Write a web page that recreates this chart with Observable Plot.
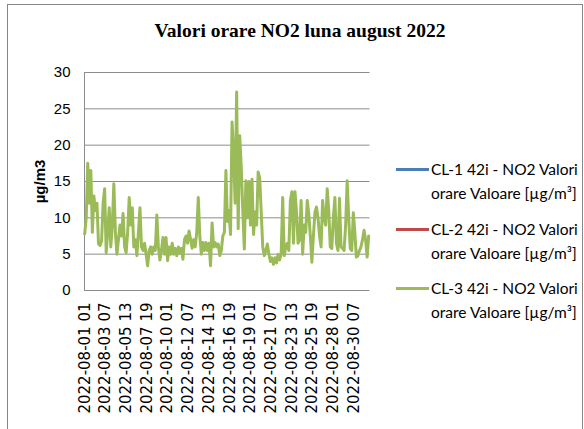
<!DOCTYPE html>
<html><head><meta charset="utf-8">
<script src="https://cdn.jsdelivr.net/npm/d3@7"></script>
<script src="https://cdn.jsdelivr.net/npm/@observablehq/plot@0.6"></script>
<style>
body{margin:0;background:#fff;}
#wrap{position:relative;width:584px;height:429px;overflow:hidden;background:#fff;}
#frame{position:absolute;left:7px;top:4px;width:576px;height:440px;border:1px solid #868686;box-sizing:border-box;}
#title{position:absolute;left:0;width:600px;top:20px;text-align:center;font:bold 19.5px "Liberation Serif";color:#000;}
#chart{position:absolute;left:0;top:0;}
.lg{position:absolute;left:396px;font:15.5px Lato;color:#000;line-height:24px;}
.lg .sw{position:absolute;left:0;top:11px;width:33px;height:3px;}
.lg .tx{position:absolute;left:35px;top:0;white-space:nowrap;}
</style></head>
<body>
<div id="wrap">
<div id="frame"></div>
<div id="title">Valori orare NO2 luna august 2022</div>
<div id="chart"></div>
</div>
<script>
// ---- data ----
const startTime = "2022-08-01T01:00:00Z"; // first hourly reading
const stepHours = 4;                        // sampled every 4 hours
const cl3Values = [
 7.8,10,17.5,12,16.5,8,13,11,12,6.4,6.2,6.8,
 12,14,5.2,8,11.4,6,9,14.7,8,5,7,9,
 7.5,10.6,6,5.2,8,12.8,9,11.4,6,7,4.8,8,
 11.4,6,5.5,6.5,5,3.4,5.5,6,5,6,5.5,10.4,
 6,4.2,5.5,7.3,5,7.3,4.1,6,5,6.5,5,5.8,
 4.8,6,5.2,5.8,4.3,7,7.5,6.5,8.2,7,5.8,7,
 6,8,12.8,7.5,5,6.6,5.5,6.6,5.5,6.5,3.4,9.3,
 6,6.6,6,6.4,4.8,5.5,7.5,8,16.5,9.5,11,7.7,
 23.2,19,12,27.3,8.5,21.3,17,11,5.7,15.1,10,15,
 9,15.3,7.7,10.8,9,16.3,15.5,10.8,6,4.8,5.5,6.4,
 5,4,4.5,3.6,4.5,3.8,5,4.2,5,12.8,4.8,6,
 6.5,5.5,12.4,13.6,6.5,13.6,10.8,6.5,7,12.4,5,9,
 8,12.4,10.5,7.5,3.9,7.5,10.7,11.5,10,7.5,6,12.4,
 10,9,14,11,6,5.8,10,12.8,6.5,5.5,12.7,6,
 5.8,5.5,9,15.1,10,5.8,5.5,10.7,8,4.6,4.8,5.5,
 6,7,8.3,7,4.6,7.5
];
const seriesNames = [
 "CL-1 42i - NO2 Valori orare Valoare [µg/m³]",
 "CL-2 42i - NO2 Valori orare Valoare [µg/m³]",
 "CL-3 42i - NO2 Valori orare Valoare [µg/m³]"
];
const xTickLabels = [
 "2022-08-01 01","2022-08-03 07","2022-08-05 13","2022-08-07 19","2022-08-10 01",
 "2022-08-12 07","2022-08-14 13","2022-08-16 19","2022-08-19 01","2022-08-21 07",
 "2022-08-23 13","2022-08-25 19","2022-08-28 01","2022-08-30 07"
];
const yTicks = [0,5,10,15,20,25,30];
const yLabel = "µg/m3";

// ---- styles ----
const seriesColors = ["#4a7ebb","#be4b48","#9bbb59"];

const parseLbl = s => new Date(s.replace(" ","T") + ":00:00Z");
const t0 = new Date(startTime).getTime();
const data = cl3Values.map((v,i)=>({t:new Date(t0 + i*stepHours*3600e3), v}));
const tickDates = xTickLabels.map(parseLbl);
const fmt = d3.utcFormat("%Y-%m-%d %H");

const chart = Plot.plot({
  width:584, height:429,
  marginLeft:84, marginRight:214.5, marginTop:72, marginBottom:139,
  style:{background:"transparent", fontFamily:"Liberation Sans", color:"#000"},
  x:{type:"utc", domain:[new Date("2022-08-01T00:30:00Z"), new Date("2022-09-01T00:30:00Z")]},
  y:{domain:[0,30]},
  marks:[
    Plot.gridY(yTicks, {stroke:"#8c8c8c", strokeOpacity:1}),
    Plot.ruleX([new Date("2022-08-01T00:30:00Z")], {stroke:"#8c8c8c"}),
    Plot.axisY(yTicks, {tickSize:0, tickPadding:14, fontSize:15, label:null}),
    Plot.axisX(tickDates, {tickFormat:fmt, tickRotate:-90, tickSize:0, tickPadding:12, fontSize:15, fontFamily:"DejaVu Sans", label:null}),
    Plot.line(data, {x:"t", y:"v", stroke:seriesColors[2], strokeWidth:3, strokeLinejoin:"round"}),
    Plot.text([yLabel], {frameAnchor:"left", dx:-44, rotate:-90, textAnchor:"middle", fontWeight:"bold", fontSize:15})
  ]
});
document.getElementById("chart").appendChild(chart);

// legend
const tops = [157, 217, 276];
const wrap = document.getElementById("wrap");
seriesNames.forEach((name,i)=>{
  const parts = name.split(" orare ");
  const el = document.createElement("div");
  el.className = "lg";
  el.style.top = tops[i] + "px";
  el.innerHTML = `<div class="sw" style="background:${seriesColors[i]}"></div><div class="tx">${parts[0]}<br>orare ${parts[1]}</div>`;
  wrap.appendChild(el);
});
</script>
</body></html>
